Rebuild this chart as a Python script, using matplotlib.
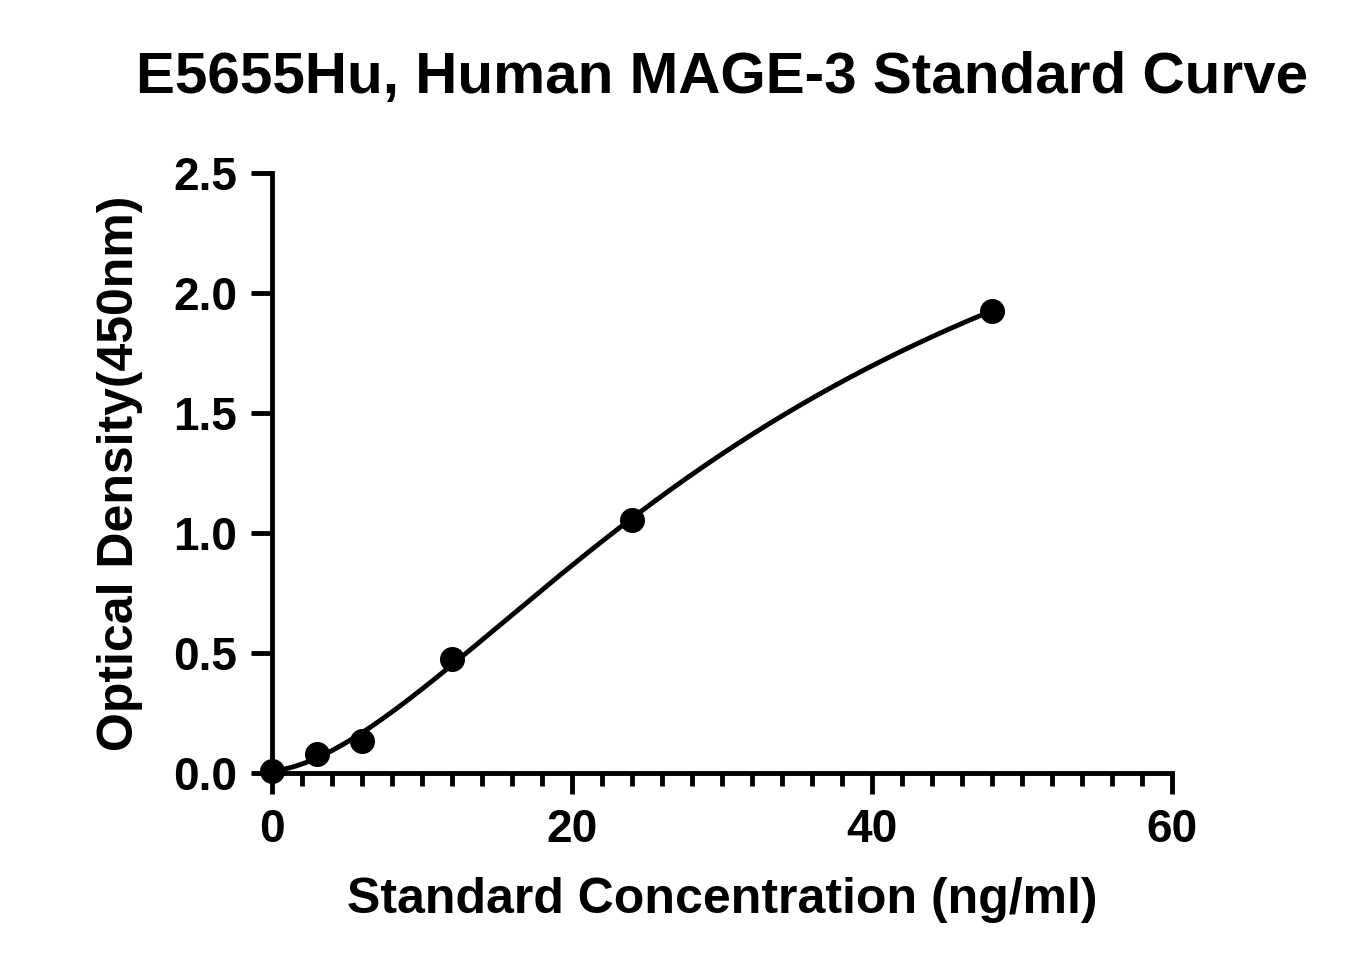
import numpy as np
import matplotlib
matplotlib.use("Agg")
import matplotlib.pyplot as plt
from matplotlib.ticker import MultipleLocator

conc = [0, 3, 6, 12, 24, 48]
od = [0.01, 0.08, 0.135, 0.475, 1.055, 1.925]

# 4PL fit: grid over b, c; linear least squares for a, d
X = np.array(conc, float); Y = np.array(od, float)
best = None
for b in np.linspace(1.0, 3.5, 126):
    for c in np.linspace(15, 300, 286):
        g = 1.0 / (1.0 + (X / c) ** b)
        A = np.column_stack([g, 1 - g])
        sol, *_ = np.linalg.lstsq(A, Y, rcond=None)
        r = np.sum((A @ sol - Y) ** 2)
        if best is None or r < best[0]:
            best = (r, b, c, sol)
_, b, c, (a, d) = best
xs = np.linspace(0, 48, 400)
ys = d + (a - d) / (1 + (xs / c) ** b)

plt.rcParams['font.family'] = ['Liberation Sans', 'DejaVu Sans']
plt.rcParams['font.weight'] = 'bold'
fig = plt.figure(figsize=(13.47, 9.75), dpi=100)
ax = fig.add_axes([0.202, 0.207, 0.668, 0.616])

ax.plot(xs, ys, color='black', lw=3.5, clip_on=False)
ax.plot(conc, od, 'o', color='black', ms=17, clip_on=False, zorder=5)

ax.set_xlim(0, 60)
ax.set_ylim(0, 2.5)
ax.xaxis.set_major_locator(MultipleLocator(20))
ax.xaxis.set_minor_locator(MultipleLocator(2))
ax.yaxis.set_major_locator(MultipleLocator(0.5))
ax.yaxis.set_major_formatter(matplotlib.ticker.FormatStrFormatter('%.1f'))
for s in ['top', 'right']:
    ax.spines[s].set_visible(False)
for s in ['left', 'bottom']:
    ax.spines[s].set_linewidth(3.5)
ax.tick_params(which='major', length=15, width=3.5, labelsize=33, pad=10)
ax.tick_params(which='minor', length=9, width=3.5)
for lab in ax.get_xticklabels() + ax.get_yticklabels():
    lab.set_fontweight('bold')
ax.set_xlabel('Standard Concentration (ng/ml)', fontsize=36, fontweight='bold', labelpad=18)
ax.set_ylabel('Optical Density(450nm)', fontsize=36, fontweight='bold', labelpad=22)
fig.text(0.536, 0.92, 'E5655Hu, Human MAGE-3 Standard Curve', fontsize=42,
         fontweight='bold', ha='center', va='center')
fig.savefig('out.png', dpi=100)
